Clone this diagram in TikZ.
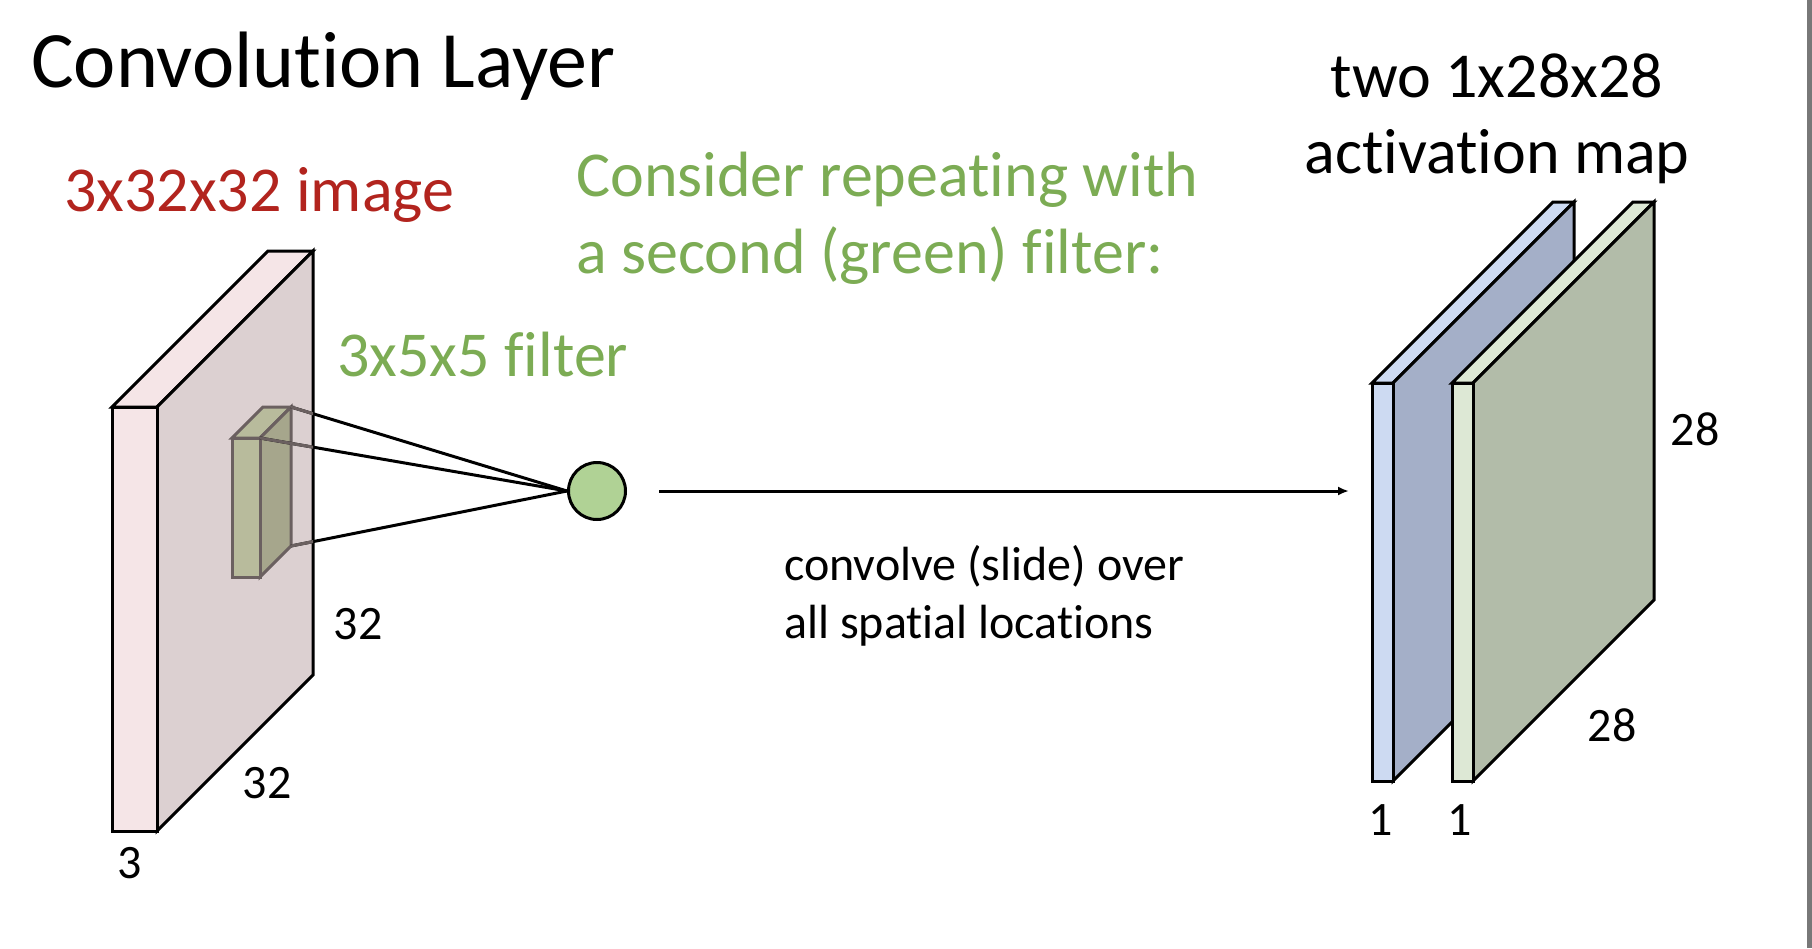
\documentclass[tikz,border=0pt]{standalone}
\usepackage{fontspec}
\setmainfont{Carlito}[Ligatures=NoCommon]
\usepackage{xcolor}
\usetikzlibrary{positioning,arrows.meta}

\definecolor{imgred}{RGB}{178,36,30}
\definecolor{filtgreen}{RGB}{124,172,84}
\definecolor{pinkfront}{RGB}{245,229,231}
\definecolor{pinkside}{RGB}{220,208,209}
\definecolor{filtfront}{RGB}{184,187,156}
\definecolor{filtside}{RGB}{166,166,140}
\definecolor{filtedge}{RGB}{107,96,96}
\definecolor{bluefront}{RGB}{205,218,242}
\definecolor{blueside}{RGB}{164,175,200}
\definecolor{greenfront}{RGB}{221,232,213}
\definecolor{greenside}{RGB}{178,188,169}
\definecolor{neurongreen}{RGB}{176,210,149}
\definecolor{stripgray}{RGB}{120,120,120}

% slab: x, y (top of front face), width, height, depth, front, side, edge style
\newcommand{\slab}[8]{%
  \filldraw[#8,fill=#6] (#1,#2) -- ++(#5,-#5) -- ++(#3,0) -- ++(-#5,#5) -- cycle;
  \filldraw[#8,fill=#7] ({#1+#3},#2) -- ++(#5,-#5) -- ++(0,#4) -- ++(-#5,#5) -- cycle;
  \filldraw[#8,fill=#6] (#1,#2) rectangle ++(#3,#4);
}

\begin{document}
\begin{tikzpicture}[x=1pt, y=-1pt, >={Latex[length=11pt,width=9pt]},
  edge/.style={draw=black,line width=3pt},
  fedge/.style={draw=filtedge,line width=3pt},
  conn/.style={line width=3pt},
  lbl/.style={inner sep=0,font=\fontsize{48}{54}\selectfont},
  head/.style={inner sep=0,anchor=base west,font=\fontsize{64}{74}\selectfont}]
\useasboundingbox (0,0) rectangle (1812,948);
\fill[white] (0,0) rectangle (1812,948);
\fill[stripgray] (1807,0) rectangle (1812,948);

\node[inner sep=0,anchor=base west,font=\fontsize{80}{90}\selectfont] (title) at (31,87) {Convolution Layer};
\node[head,text=imgred] (imgtxt) at (64,211) {3x32x32 image};
\node[head,text=filtgreen] (rep1) at (576,196) {Consider repeating with};
\node[head,text=filtgreen] (rep2) at (576,273) {a second (green) filter:};
\node[head,text=filtgreen] (filttxt) at (337,376) {3x5x5 filter};
\node[head,anchor=base] (maptxt1) at (1497,97) {two 1x28x28};
\node[head,anchor=base] (maptxt2) at (1497,173) {activation map};

% input image and filter
\slab{112}{407}{45}{424}{156}{pinkfront}{pinkside}{edge}
\slab{232}{438}{28}{139}{31}{filtfront}{filtside}{fedge}
\coordinate (fbt) at (291,407);
\coordinate (fft) at (260,438);
\coordinate (fbb) at (291,546);

\node[circle,draw,line width=3pt,fill=neurongreen,minimum size=57pt,inner sep=0] (neuron) at (597,491) {};
\draw[conn] (fbt) -- (neuron.west);
\draw[conn] (fft) -- (neuron.west);
\draw[conn] (fbb) -- (neuron.west);
\begin{scope}
  \clip (157,407) -- (313,251) -- (313,675) -- (157,831) -- cycle;
  \draw[conn,filtedge] (fbt) -- (neuron.west);
  \draw[conn,filtedge] (fft) -- (neuron.west);
  \draw[conn,filtedge] (fbb) -- (neuron.west);
\end{scope}

\node[lbl] (w32) at (358,624) {32};
\node[lbl] (h32) at (267,783) {32};
\node[lbl] (d3) at (130,863) {3};

% activation maps
\coordinate (mapin) at (1349,491);
\draw[->,line width=3pt] ([xshift=32pt]neuron.east) -- (mapin);
\node[lbl,anchor=base west] (conv1) at (784,580) {convolve (slide) over};
\node[lbl,anchor=base west] (conv2) at (784,638) {all spatial locations};

\slab{1372}{383}{21}{398}{181}{bluefront}{blueside}{edge}
\slab{1452}{383}{21}{398}{181}{greenfront}{greenside}{edge}

\node[lbl] (w28) at (1695,429) {28};
\node[lbl] (h28) at (1612,725) {28};
\node[lbl] (d1a) at (1381,820) {1};
\node[lbl] (d1b) at (1460,820) {1};
\end{tikzpicture}
\end{document}
